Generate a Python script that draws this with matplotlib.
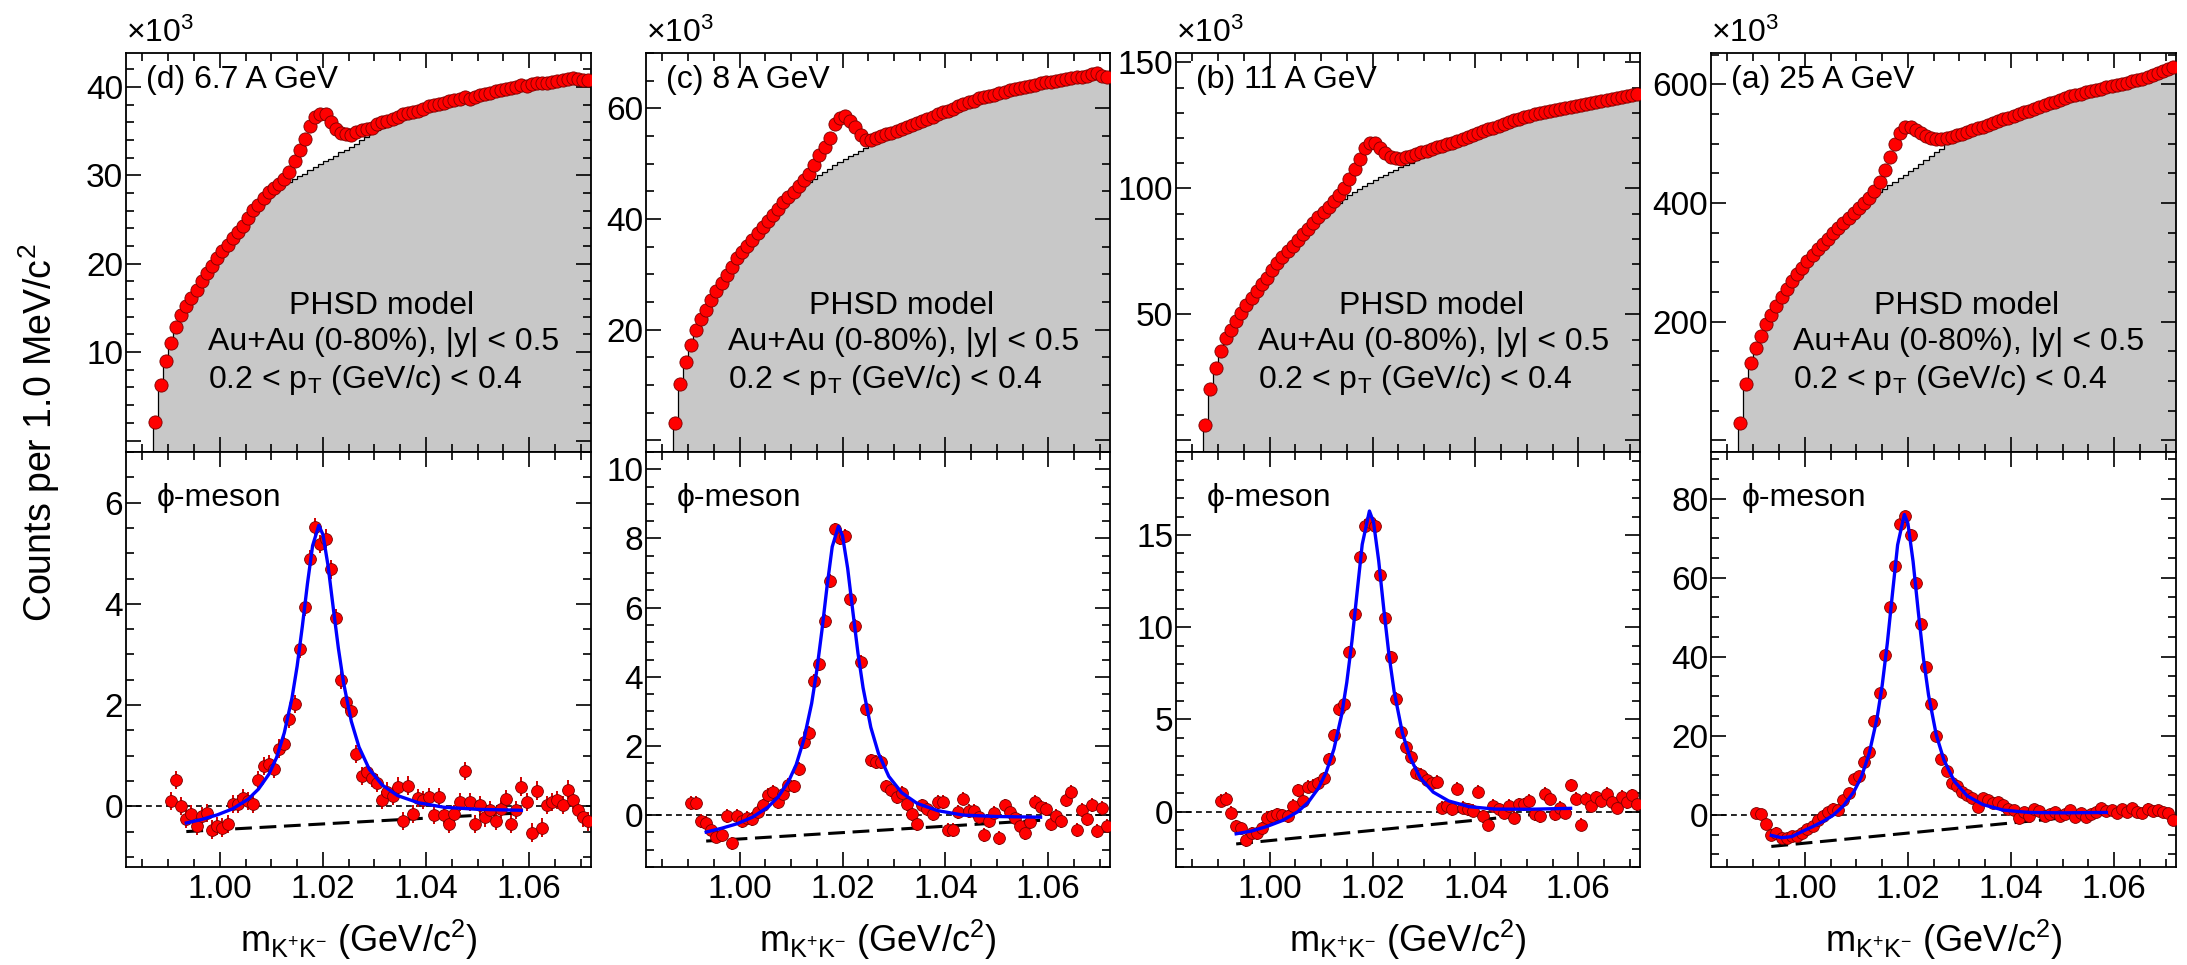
import numpy as np
import matplotlib.pyplot as plt
from matplotlib.ticker import MultipleLocator, FuncFormatter, FormatStrFormatter

plt.rcParams['font.family'] = ['Liberation Sans', 'DejaVu Sans']
plt.rcParams['mathtext.fontset'] = 'custom'
plt.rcParams['mathtext.rm'] = 'Liberation Sans'
plt.rcParams['mathtext.it'] = 'Liberation Sans:italic'
plt.rcParams['mathtext.sf'] = 'Liberation Sans'

# bins de 1 MeV (histograma de cima) e centros dos pontos de baixo
edges = np.round(np.arange(0.987, 1.0725, 0.001), 4)
x_up = edges[:-1] + 0.0005
x_low = np.round(np.arange(0.9905, 1.0720, 0.001), 4)

labels = ["(d) 6.7 A GeV", "(c) 8 A GeV", "(b) 11 A GeV", "(a) 25 A GeV"]

# painel de cima: same-event (pontos) e mixed-event (cinza), x10^3
up_d1 = [2.1, 6.3, 9.0, 11.0, 12.9, 14.2, 15.2, 16.1, 17.0, 18.0,
         18.9, 19.8, 20.6, 21.4, 22.1, 22.9, 23.6, 24.3, 25.2, 26.1,
         26.7, 27.4, 28.1, 28.6, 29.0, 29.6, 30.4, 31.6, 32.9, 34.1,
         35.6, 36.6, 37.0, 36.9, 36.0, 35.2, 34.8, 34.7, 34.6, 34.9,
         35.1, 35.2, 35.4, 35.8, 36.0, 36.1, 36.4, 36.6, 36.9, 37.1,
         37.2, 37.3, 37.5, 37.8, 38.0, 38.1, 38.2, 38.4, 38.5, 38.6,
         38.9, 38.6, 38.9, 39.1, 39.2, 39.3, 39.5, 39.7, 39.8, 39.9,
         40.0, 40.2, 40.1, 40.3, 40.4, 40.5, 40.4, 40.6, 40.7, 40.8,
         40.9, 41.0, 40.9, 40.8, 40.8]
up_h1 = [2.0, 6.2, 8.9, 10.9, 12.8, 14.1, 15.2, 16.1, 17.0, 17.9,
         18.8, 19.7, 20.5, 21.3, 22.0, 22.8, 23.5, 24.2, 25.0, 25.8,
         26.5, 27.2, 27.8, 28.3, 28.7, 29.0, 29.3, 29.6, 29.9, 30.2,
         30.6, 30.9, 31.3, 31.6, 31.9, 32.2, 32.6, 32.9, 33.2, 33.6,
         34.0, 34.4, 34.8, 35.1, 35.4, 35.7, 36.0, 36.3, 36.5, 36.8,
         37.0, 37.2, 37.4, 37.6, 37.8, 37.9, 38.1, 38.3, 38.4, 38.6,
         38.7, 38.8, 39.0, 39.1, 39.2, 39.3, 39.5, 39.6, 39.7, 39.8,
         39.9, 40.0, 40.1, 40.2, 40.3, 40.4, 40.4, 40.5, 40.6, 40.7,
         40.7, 40.8, 40.8, 40.8, 40.8]

up_d2 = [3.2, 10.2, 14.2, 17.3, 20.0, 21.9, 23.6, 25.3, 27.0, 28.4,
         29.8, 31.4, 33.0, 34.1, 35.2, 36.2, 37.4, 38.5, 39.6, 40.8,
         41.9, 43.0, 44.0, 44.9, 45.9, 47.0, 48.2, 49.8, 51.5, 53.0,
         54.6, 57.2, 58.3, 58.6, 57.8, 56.6, 55.2, 54.3, 54.3, 54.6,
         55.0, 55.3, 55.5, 55.9, 56.2, 56.6, 56.9, 57.4, 57.7, 58.0,
         58.4, 58.9, 59.3, 59.6, 59.8, 60.4, 60.8, 61.1, 61.3, 61.8,
         62.1, 62.3, 62.5, 62.8, 63.0, 63.3, 63.5, 63.6, 63.9, 64.1,
         64.3, 64.5, 64.7, 64.8, 65.0, 65.1, 65.3, 65.5, 65.6, 65.7,
         65.9, 66.2, 66.4, 65.8, 65.6]
up_h2 = [3.1, 10.0, 14.1, 17.2, 19.9, 21.8, 23.5, 25.2, 26.8, 28.3,
         29.7, 31.2, 32.7, 33.9, 35.0, 36.1, 37.2, 38.3, 39.4, 40.5,
         41.6, 42.6, 43.6, 44.5, 45.4, 46.1, 46.7, 47.3, 47.9, 48.5,
         49.1, 49.7, 50.3, 50.8, 51.3, 51.8, 52.3, 52.8, 53.3, 53.8,
         54.3, 54.7, 55.1, 55.5, 55.9, 56.3, 56.7, 57.1, 57.5, 57.9,
         58.3, 58.7, 59.1, 59.4, 59.7, 60.1, 60.5, 60.8, 61.1, 61.5,
         61.8, 62.1, 62.4, 62.7, 62.9, 63.2, 63.4, 63.6, 63.8, 64.0,
         64.2, 64.4, 64.6, 64.8, 64.9, 65.1, 65.2, 65.4, 65.5, 65.6,
         65.8, 66.0, 66.1, 65.9, 65.7]

up_d3 = [6.3, 20.6, 28.8, 35.6, 40.6, 43.8, 47.5, 50.6, 53.8, 56.6,
         59.3, 62.0, 64.6, 67.5, 70.3, 72.6, 75.0, 77.3, 79.5, 81.8,
         84.0, 86.3, 88.5, 90.7, 92.8, 95.0, 97.5, 100.3, 103.6, 107.8,
         111.5, 116.0, 118.2, 118.0, 116.2, 114.0, 112.6, 112.0, 111.8, 112.4,
         113.0, 113.5, 114.4, 115.0, 115.6, 116.3, 116.8, 117.5, 118.0, 118.8,
         119.6, 120.5, 121.3, 122.0, 122.8, 123.5, 124.1, 124.9, 125.5, 126.3,
         127.0, 127.6, 128.3, 128.9, 129.4, 129.8, 130.4, 130.9, 131.3, 131.6,
         132.0, 132.5, 132.9, 133.2, 133.6, 134.0, 134.3, 134.7, 135.0, 135.4,
         135.8, 136.2, 136.6, 137.0, 137.3]
up_h3 = [6.2, 20.4, 28.6, 35.4, 40.4, 43.6, 47.3, 50.4, 53.6, 56.4,
         59.1, 61.8, 64.4, 67.2, 70.0, 72.4, 74.8, 77.0, 79.2, 81.5,
         83.6, 85.9, 88.0, 90.0, 91.6, 93.0, 94.4, 95.8, 97.2, 98.6,
         99.9, 101.1, 102.3, 103.4, 104.5, 105.5, 106.5, 107.5, 108.4, 109.3,
         110.2, 111.1, 112.0, 112.8, 113.6, 114.4, 115.2, 116.0, 116.7, 117.5,
         118.3, 119.1, 119.9, 120.7, 121.5, 122.3, 123.1, 123.8, 124.5, 125.2,
         125.9, 126.6, 127.3, 127.9, 128.5, 129.1, 129.7, 130.3, 130.8, 131.3,
         131.8, 132.3, 132.7, 133.1, 133.5, 133.9, 134.2, 134.6, 134.9, 135.3,
         135.7, 136.1, 136.5, 136.9, 137.2]

up_d4 = [30, 95, 131, 156, 176, 196, 211, 227, 242, 255,
         268, 280, 291, 302, 313, 322, 331, 340, 349, 358,
         367, 375, 383, 391, 400, 409, 421, 436, 455, 477,
         500, 519, 528, 529, 524, 519, 513, 510, 508, 508,
         509, 511, 514, 517, 520, 523, 526, 529, 532, 535,
         538, 541, 544, 547, 550, 553, 556, 559, 562, 565,
         568, 571, 574, 577, 580, 582, 584, 587, 589, 591,
         593, 595, 597, 599, 601, 603, 605, 608, 610, 613,
         616, 619, 622, 626, 629]
up_h4 = [29, 93, 129, 154, 174, 194, 209, 225, 240, 253,
         266, 278, 289, 300, 311, 320, 329, 338, 347, 356,
         364, 372, 380, 388, 396, 404, 411, 418, 424, 430,
         436, 442, 448, 454, 460, 466, 472, 479, 486, 492,
         499, 505, 510, 514, 517, 520, 523, 526, 529, 532,
         535, 538, 541, 544, 547, 550, 553, 556, 559, 562,
         565, 568, 571, 574, 577, 579, 582, 585, 587, 589,
         591, 593, 595, 597, 599, 601, 603, 606, 608, 611,
         614, 617, 620, 624, 627]

# painel de baixo: sinal depois da subtracao
lo1 = [0.10, 0.52, 0.00, -0.25, -0.15, -0.38, -0.20, -0.14, -0.46, -0.39,
       -0.42, -0.35, 0.04, 0.05, 0.16, 0.10, 0.05, 0.52, 0.80, 0.84,
       0.73, 1.14, 1.24, 1.72, 2.02, 3.11, 3.93, 4.88, 5.52, 5.18,
       5.29, 4.68, 3.72, 2.50, 2.06, 1.89, 1.04, 0.60, 0.67, 0.56,
       0.46, 0.12, 0.29, 0.20, 0.39, -0.29, 0.41, -0.15, 0.16, 0.12,
       0.19, -0.18, 0.19, -0.18, -0.35, -0.15, 0.09, 0.70, 0.09, -0.35,
       0.02, -0.22, -0.08, -0.29, -0.05, 0.14, -0.35, -0.08, 0.39, 0.09,
       -0.52, 0.31, -0.42, 0.02, 0.09, 0.12, 0.02, 0.33, 0.12, -0.08,
       -0.22, -0.30]
lo2 = [0.35, 0.35, -0.17, -0.22, -0.42, -0.62, -0.57, -0.02, -0.82, -0.02,
       -0.17, -0.07, -0.12, 0.10, 0.28, 0.58, 0.68, 0.38, 0.60, 0.88,
       0.83, 1.33, 2.12, 2.37, 3.87, 4.37, 5.61, 6.76, 8.26, 8.00,
       8.06, 6.26, 5.46, 4.42, 3.07, 1.58, 1.53, 1.53, 0.83, 0.73,
       0.53, 0.63, 0.33, 0.03, -0.27, 0.28, 0.18, 0.03, 0.38, 0.38,
       -0.42, -0.42, 0.10, 0.48, 0.13, 0.13, -0.05, -0.57, -0.17, 0.05,
       -0.67, 0.28, 0.10, -0.07, -0.32, -0.52, -0.20, 0.38, 0.23, 0.18,
       -0.27, -0.02, -0.17, 0.43, 0.68, -0.42, 0.15, -0.10, 0.30, -0.45,
       0.20, -0.30]
lo3 = [0.60, 0.69, -0.06, -0.80, -0.90, -1.55, -1.18, -1.18, -0.90, -0.34,
       -0.24, -0.15, -0.20, -0.24, 0.32, 1.16, 0.60, 1.35, 1.40, 1.53,
       1.81, 2.84, 4.15, 5.56, 5.84, 8.64, 10.7, 13.8, 15.5, 15.7,
       15.5, 12.85, 10.5, 8.36, 6.12, 4.34, 3.5, 2.94, 2.1, 2.0,
       1.72, 1.53, 1.63, 0.22, 0.32, 0.13, 1.25, 0.22, 0.13, 0.04,
       1.07, -0.24, -0.71, 0.32, 0.13, -0.06, 0.32, -0.34, 0.41, 0.41,
       0.60, -0.15, -0.24, 0.97, 0.69, -0.15, 0.22, -0.06, 1.44, 0.69,
       -0.71, 0.69, 0.32, 0.79, 0.60, 0.97, 0.50, 0.22, 0.80, 0.50,
       0.90, 0.40]
lo4 = [0.4, 0.3, -2.4, -5.0, -4.5, -5.8, -5.8, -5.4, -5.4, -4.5,
       -3.7, -2.8, -1.2, -0.2, 0.7, 1.6, 1.1, 3.7, 5.5, 9.0,
       9.8, 13.3, 15.9, 23.8, 30.8, 40.4, 52.6, 63.0, 73.5, 75.6,
       70.9, 58.7, 48.2, 37.3, 28.1, 19.9, 14.2, 11.2, 8.1, 7.2,
       5.9, 5.1, 4.2, 2.0, 4.2, 3.7, 2.9, 3.3, 2.4, 1.6,
       1.1, -0.8, 0.6, -0.4, 1.5, 0.9, -0.2, 0.3, 0.8, -0.3,
       0.2, 1.3, -0.5, 0.4, -0.6, 0.1, 0.7, 1.8, 0.9, 1.2,
       0.4, 1.5, 0.6, 1.7, 0.8, 0.5, 1.6, 0.9, 1.3, 0.8,
       0.4, -1.3]
lo_err = [0.18, 0.2, 0.35, 1.3]

# ajuste (curva azul) e fundo (tracejado)
fit_x1 = [0.9935, 0.9965, 0.9995, 1.0025, 1.0055, 1.0075, 1.0095, 1.0110, 1.0125, 1.0140,
          1.0150, 1.0160, 1.0170, 1.0180, 1.0192, 1.0200, 1.0210, 1.0220, 1.0230, 1.0240,
          1.0255, 1.0270, 1.0290, 1.0315, 1.0345, 1.0385, 1.0435, 1.0500, 1.0585]
fit_y1 = [-0.33, -0.26, -0.17, -0.05, 0.14, 0.34, 0.63, 0.96, 1.45, 2.14,
          2.77, 3.55, 4.40, 5.15, 5.55, 5.37, 4.75, 3.92, 3.12, 2.44,
          1.68, 1.17, 0.73, 0.42, 0.21, 0.07, -0.02, -0.06, -0.08]
fit_y2 = [-0.49, -0.38, -0.25, -0.06, 0.23, 0.53, 0.97, 1.46, 2.19, 3.23,
          4.18, 5.34, 6.62, 7.76, 8.35, 8.08, 7.14, 5.90, 4.69, 3.68,
          2.54, 1.78, 1.12, 0.65, 0.34, 0.13, 0.00, -0.04, -0.06]
fit_x3 = [0.9935, 0.9965, 0.9995, 1.0025, 1.0055, 1.0075, 1.0095, 1.0110, 1.0125, 1.0140,
          1.0150, 1.0160, 1.0170, 1.0180, 1.0194, 1.0202, 1.0212, 1.0222, 1.0232, 1.0242,
          1.0258, 1.0273, 1.0293, 1.0318, 1.0348, 1.0388, 1.0438, 1.0503, 1.0585]
fit_y3 = [-1.20, -1.05, -0.80, -0.48, 0.0, 0.51, 1.28, 2.14, 3.39, 5.25,
          7.01, 9.24, 11.88, 14.49, 16.30, 15.70, 13.61, 10.96, 8.51, 6.52,
          4.28, 2.93, 1.82, 1.06, 0.58, 0.27, 0.14, 0.13, 0.18]
fit_x4 = [0.9935, 0.9955, 0.9975, 0.9995, 1.0015, 1.0035, 1.0055, 1.0075, 1.0095, 1.0110,
          1.0125, 1.0140, 1.0150, 1.0160, 1.0170, 1.0180, 1.0193, 1.0200, 1.0210, 1.0220,
          1.0230, 1.0240, 1.0255, 1.0270, 1.0290, 1.0315, 1.0345, 1.0385, 1.0435, 1.0500,
          1.0585]
fit_y4 = [-5.2, -5.8, -5.5, -4.2, -3.0, -1.7, -0.1, 2.3, 5.8, 9.7,
          15.6, 24.4, 32.7, 43.4, 56.0, 68.3, 76.0, 73.7, 64.1, 51.5,
          39.7, 30.3, 20.2, 13.8, 8.5, 4.8, 2.6, 1.2, 0.6, 0.5,
          0.6]
bg_x = [0.9935, 1.0585]
bg_y = [[-0.50, -0.13], [-0.75, -0.15], [-1.75, 0.05], [-8.0, 0.3]]

up_data = [up_d1, up_d2, up_d3, up_d4]
up_hist = [up_h1, up_h2, up_h3, up_h4]
lo_data = [lo1, lo2, lo3, lo4]
fits = [(fit_x1, fit_y1), (fit_x1, fit_y2), (fit_x3, fit_y3), (fit_x4, fit_y4)]

# escalas dos eixos
up_ylim = [(-1.3, 43.85), (-2.1, 70.0), (-4.6, 153.75), (-19.5, 653)]
up_major = [10, 20, 50, 200]
up_minor = [2, 5, 10, 50]
lo_ylim = [(-1.2, 7.0), (-1.5, 10.5), (-3.0, 19.5), (-13.2, 91.8)]
lo_major = [2, 2, 5, 20]
lo_minor = [0.5, 0.5, 1, 5]

# geometria em pixels da imagem original
W, H = 2187, 965
lefts = [126, 646, 1176, 1711]
widths = [465, 464, 464, 465]
top, mid, bot = 53, 452, 867

FS = 23       # textos dentro dos paineis
FT = 24       # rotulos dos ticks
FA = 26       # titulos dos eixos
RED = "#ff0000"

fig = plt.figure(figsize=(W / 100, H / 100), dpi=100)


def style(ax):
    ax.tick_params(which="both", direction="in", top=True, right=True,
                   width=1.2, labelsize=FT)
    ax.tick_params(which="major", length=11)
    ax.tick_params(which="minor", length=5.5)
    ax.tick_params(axis="y", pad=2)
    ax.tick_params(axis="x", pad=5)
    for sp in ax.spines.values():
        sp.set_linewidth(1.3)
    ax.set_xlim(0.9818, 1.072)
    ax.xaxis.set_major_locator(MultipleLocator(0.02))
    ax.xaxis.set_minor_locator(MultipleLocator(0.005))


def no_zero(v, pos):
    if abs(v) < 1e-9 or v < 0:
        return ""
    return "%d" % v


for i in range(4):
    l, w = lefts[i], widths[i]
    axu = fig.add_axes([l / W, 1 - mid / H, w / W, (mid - top) / H])
    axl = fig.add_axes([l / W, 1 - bot / H, w / W, (bot - mid) / H])

    # --- cima ---
    style(axu)
    y0 = up_ylim[i][0]
    axu.stairs(up_hist[i], edges, baseline=y0, fill=True, color="#c8c8c8", lw=0, zorder=1)
    axu.stairs(up_hist[i], edges, baseline=y0, color="black", lw=0.9, zorder=2)
    axu.plot(x_up, up_data[i], "o", ms=9.5, color=RED, mec="#7a0000", mew=0.6, zorder=3)
    axu.set_ylim(*up_ylim[i])
    axu.yaxis.set_major_locator(MultipleLocator(up_major[i]))
    axu.yaxis.set_minor_locator(MultipleLocator(up_minor[i]))
    axu.yaxis.set_major_formatter(FuncFormatter(no_zero))
    axu.tick_params(labelbottom=False)

    axu.text(0.043, 0.933, labels[i], transform=axu.transAxes, fontsize=FS,
             ha="left", va="center")
    axu.text(0.55, 0.365, "PHSD model", transform=axu.transAxes, fontsize=FS,
             ha="center", va="center")
    axu.text(0.176, 0.275, "Au+Au (0-80%), |y| < 0.5", transform=axu.transAxes,
             fontsize=FS, ha="left", va="center")
    axu.text(0.176, 0.18, r"0.2 < p$_{\mathrm{T}}$ (GeV/c) < 0.4",
             transform=axu.transAxes, fontsize=FS, ha="left", va="center")
    fig.text(l / W, 1 - 42 / H, "×10$^{3}$", fontsize=FS,
             ha="left", va="baseline")

    # --- baixo ---
    style(axl)
    axl.axhline(0, color="black", lw=1.2, ls=(0, (3.5, 2.5)), zorder=1)
    axl.plot(bg_x, bg_y[i], color="black", lw=2.2, ls=(0, (5.5, 2.5)), zorder=2)
    axl.errorbar(x_low, lo_data[i], yerr=lo_err[i], fmt="o", ms=8.5, color=RED,
                 mec="#7a0000", mew=0.6, ecolor="#d00000", elinewidth=1.4,
                 capsize=0, zorder=3)
    axl.plot(fits[i][0], fits[i][1], color="#0000ff", lw=2.4, zorder=4)
    axl.set_ylim(*lo_ylim[i])
    axl.yaxis.set_major_locator(MultipleLocator(lo_major[i]))
    axl.yaxis.set_minor_locator(MultipleLocator(lo_minor[i]))
    axl.yaxis.set_major_formatter(FormatStrFormatter("%d"))
    axl.xaxis.set_major_formatter(FormatStrFormatter("%.2f"))
    axl.text(0.067, 0.89, "ϕ-meson", transform=axl.transAxes, fontsize=FS,
             ha="left", va="center")

    fig.text((l + w / 2) / W, 1 - 952 / H,
             r"m$_{\mathrm{K^{+}K^{-}}}$ (GeV/c$^{2}$)", fontsize=FA,
             ha="center", va="baseline")

fig.text(0.018, 0.551, r"Counts per 1.0 MeV/c$^{2}$", rotation=90,
         fontsize=27, ha="center", va="center")

plt.savefig("out.png", dpi=100, facecolor="white")
plt.close()
